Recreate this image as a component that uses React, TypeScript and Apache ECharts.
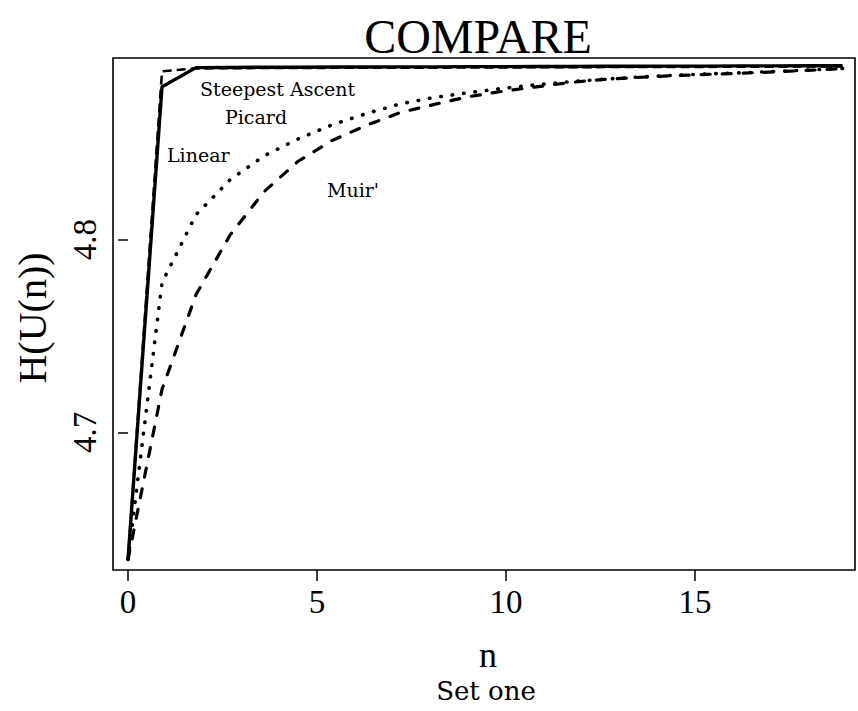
import React, { useEffect, useRef } from "react";
import * as echarts from "echarts";

// iteration positions along the n axis
const nValues = [0, 0.9, 1.8, 2.7, 3.6, 4.5, 5.4, 6.3, 7.2, 8.1, 9.0, 9.9, 10.8, 11.7, 12.6, 13.5, 14.4, 15.3, 16.2, 17.1, 18.0, 18.9];

const linearValues = [4.634, 4.8794, 4.8893, 4.8894, 4.8895, 4.8895, 4.8896, 4.8896, 4.8897, 4.8897, 4.8898, 4.8898, 4.8899, 4.8899, 4.8900, 4.8900, 4.8901, 4.8901, 4.8902, 4.8902, 4.8903, 4.8903];
const steepestValues = [4.634, 4.8874, 4.8889, 4.8890, 4.8891, 4.8891, 4.8892, 4.8892, 4.8893, 4.8893, 4.8894, 4.8894, 4.8895, 4.8895, 4.8896, 4.8896, 4.8897, 4.8897, 4.8898, 4.8898, 4.8899, 4.8899];
const picardValues = [4.634, 4.7777, 4.8130, 4.8311, 4.8435, 4.8523, 4.8596, 4.8654, 4.8705, 4.8738, 4.8763, 4.8785, 4.8804, 4.8820, 4.8833, 4.8844, 4.8853, 4.8860, 4.8866, 4.8873, 4.8881, 4.8889];
const muirValues = [4.634, 4.7223, 4.7715, 4.8024, 4.8249, 4.8407, 4.8515, 4.8593, 4.8660, 4.8702, 4.8742, 4.8770, 4.8793, 4.8816, 4.8832, 4.8842, 4.8851, 4.8858, 4.8864, 4.8871, 4.8879, 4.8888];

const xTicks = [0, 5, 10, 15];
const yTicks = [4.7, 4.8];

const titleText = "COMPARE";
const xName = "n";
const xSubName = "Set one";
const yName = "H(U(n))";
const curveLabels = ["Steepest Ascent", "Picard", "Linear", "Muir'"];

const CM = "'Liberation Serif', 'Times New Roman', serif";
const CS = "'DejaVu Serif', serif";

function pairs(ys: number[]) {
  return nValues.map((n, i) => [n, ys[i]]);
}

export default function App() {
  const ref = useRef<HTMLDivElement>(null);
  useEffect(() => {
    if (!ref.current) return;
    const chart = echarts.init(ref.current, null, { renderer: "svg" });
    const lineBase = { type: "line", showSymbol: false, symbol: "none", smooth: false, silent: true };
    chart.setOption({
      animation: false,
      backgroundColor: "#fff",
      grid: {
        left: 113,
        right: 3,
        top: 58,
        bottom: 141,
        show: true,
        borderColor: "#000",
        borderWidth: 1.6,
        backgroundColor: "transparent",
        containLabel: false,
        outerBoundsMode: "none",
      },
      xAxis: {
        type: "value",
        min: -0.397,
        max: 19.23,
        splitLine: { show: false },
        axisLine: { show: false },
        axisTick: { show: true, customValues: xTicks, length: 11, inside: false, lineStyle: { color: "#000", width: 1.5 } },
        axisLabel: { customValues: xTicks, margin: 15, color: "#000", fontFamily: CM, fontSize: 33 },
      },
      yAxis: {
        type: "value",
        min: 4.6285,
        max: 4.8943,
        splitLine: { show: false },
        axisLine: { show: false },
        axisTick: { show: true, customValues: yTicks, length: 10, inside: false, lineStyle: { color: "#000", width: 1.5 } },
        axisLabel: {
          customValues: yTicks,
          rotate: 90,
          margin: 12,
          color: "#000",
          fontFamily: CM,
          fontSize: 33,
          formatter: (v: number) => v.toFixed(1),
        },
      },
      series: [
        { ...lineBase, name: "Steepest Ascent", data: pairs(steepestValues), lineStyle: { color: "#000", width: 2.6, type: [9, 5] } },
        { ...lineBase, name: "Linear", data: pairs(linearValues), lineStyle: { color: "#000", width: 3.4, type: "solid" } },
        { ...lineBase, name: "Picard", data: pairs(picardValues), lineStyle: { color: "#000", width: 3.6, type: [0.5, 11], cap: "round" } },
        { ...lineBase, name: "Muir'", data: pairs(muirValues), lineStyle: { color: "#000", width: 3.2, type: [9, 12], cap: "round" } },
      ],
      graphic: [
        { type: "text", x: 478, y: 36, style: { text: titleText, font: `48px ${CM}`, fill: "#000", align: "center", verticalAlign: "middle" } },
        { type: "text", x: 488, y: 655, style: { text: xName, font: `36px ${CM}`, fill: "#000", align: "center", verticalAlign: "middle" } },
        { type: "text", x: 486, y: 691, style: { text: xSubName, font: `26px ${CS}`, fill: "#000", align: "center", verticalAlign: "middle" } },
        { type: "text", x: 32, y: 318, rotation: Math.PI / 2, style: { text: yName, font: `40px ${CM}`, fill: "#000", align: "center", verticalAlign: "middle" } },
        { type: "text", x: 200, y: 89, style: { text: curveLabels[0], font: `19px ${CS}`, fill: "#000", align: "left", verticalAlign: "middle" } },
        { type: "text", x: 225, y: 117, style: { text: curveLabels[1], font: `19px ${CS}`, fill: "#000", align: "left", verticalAlign: "middle" } },
        { type: "text", x: 167, y: 155, style: { text: curveLabels[2], font: `19px ${CS}`, fill: "#000", align: "left", verticalAlign: "middle" } },
        { type: "text", x: 327, y: 190, style: { text: curveLabels[3], font: `19px ${CS}`, fill: "#000", align: "left", verticalAlign: "middle" } },
      ],
    });
    return () => chart.dispose();
  }, []);
  return <div ref={ref} style={{ position: "absolute", left: 0, top: 0, width: 858, height: 711 }} />;
}
